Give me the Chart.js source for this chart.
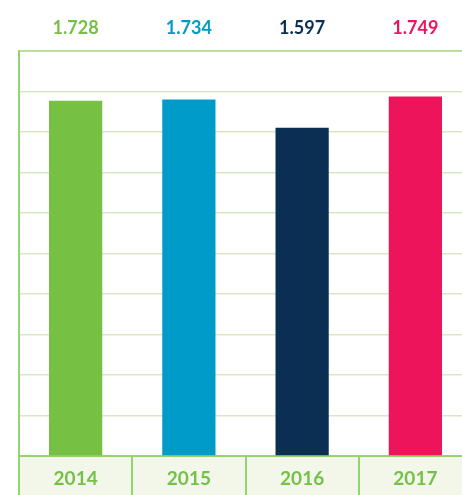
<!DOCTYPE html>
<html>
<head>
<meta charset="utf-8">
<script src="https://cdn.jsdelivr.net/npm/chart.js@4/dist/chart.umd.min.js"></script>
<style>
  html, body { margin: 0; padding: 0; background: #ffffff; overflow: hidden; }
  #wrap { width: 462px; height: 495px; overflow: hidden; position: relative; }
  #box { width: 480px; height: 495px; position: absolute; left: 0; top: 0; }
</style>
</head>
<body>
<div id="wrap"><div id="box"><canvas id="c"></canvas></div></div>
<script>
const categories = ['2014', '2015', '2016', '2017'];
const values = [1728, 1734, 1597, 1749];
const valueLabels = ['1.728', '1.734', '1.597', '1.749'];
const barColors = ['#76c043', '#009bc9', '#0b2f53', '#ee145b'];

const FONT = 'Lato, "Open Sans", sans-serif';

const bandPlugin = {
  id: 'band',
  beforeDraw(chart) {
    const { ctx, chartArea, scales } = chart;
    const x = scales.x;
    ctx.save();
    ctx.fillStyle = '#f3f7ea';
    ctx.fillRect(chartArea.left, chartArea.bottom, chartArea.right - chartArea.left, chart.height - chartArea.bottom);
    ctx.restore();
  },
  afterDraw(chart) {
    const { ctx, chartArea, scales } = chart;
    const x = scales.x;
    ctx.save();
    ctx.strokeStyle = '#92d46e';
    ctx.lineWidth = 2;
    const n = categories.length;
    const step = (x.getPixelForValue(1) - x.getPixelForValue(0));
    for (let i = 0; i <= n; i++) {
      const px = Math.round(x.getPixelForValue(0) - step / 2 + i * step);
      ctx.beginPath();
      ctx.moveTo(px, i === 0 ? chartArea.top : chartArea.bottom);
      ctx.lineTo(px, chart.height);
      ctx.stroke();
    }
    ctx.beginPath();
    ctx.moveTo(chartArea.left, chartArea.top);
    ctx.lineTo(chartArea.right, chartArea.top);
    ctx.lineWidth = 1.5;
    ctx.strokeStyle = '#a9dc8a';
    ctx.stroke();
    // value labels
    ctx.font = 'bold 18px ' + FONT;
    ctx.textAlign = 'center';
    ctx.textBaseline = 'middle';
    for (let i = 0; i < n; i++) {
      ctx.fillStyle = barColors[i];
      ctx.fillText(valueLabels[i], x.getPixelForValue(i), 28);
    }
    ctx.restore();
  }
};

new Chart(document.getElementById('c'), {
  type: 'bar',
  data: {
    labels: categories,
    datasets: [{
      data: values,
      backgroundColor: barColors,
      borderWidth: 0,
      barPercentage: 0.47,
      categoryPercentage: 1.0
    }]
  },
  options: {
    responsive: true,
    maintainAspectRatio: false,
    animation: false,
    layout: { padding: { left: 19, top: 51, right: 8, bottom: 0 } },
    plugins: { legend: { display: false }, tooltip: { enabled: false }, title: { display: false } },
    scales: {
      x: {
        grid: { display: false, drawTicks: false },
        border: { display: true, color: '#92d46e', width: 2 },
        ticks: {
          color: '#74c04a',
          font: { family: FONT, size: 19, weight: 'bold' },
          padding: 11
        },
        afterFit(scale) { scale.height = 39; }
      },
      y: {
        min: 0,
        max: 1970,
        ticks: { display: false, stepSize: 197 },
        grid: { color: '#d6e9c3', lineWidth: 1.5, drawTicks: false },
        border: { display: true, color: '#92d46e', width: 2 },
        afterFit(scale) { scale.width = 0; }
      }
    }
  },
  plugins: [bandPlugin]
});
</script>
</body>
</html>
